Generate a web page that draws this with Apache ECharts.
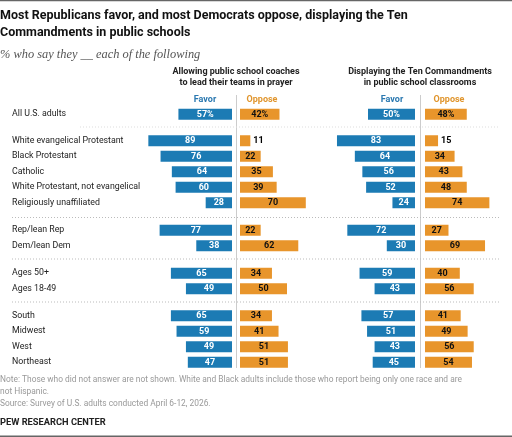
<!DOCTYPE html>
<html><head><meta charset="utf-8">
<script src="https://cdn.jsdelivr.net/npm/echarts@6/dist/echarts.min.js"></script>
<style>html,body{margin:0;padding:0;background:#fff}#c{width:512px;height:437px}</style>
</head><body><div id="c"></div>
<script>
const categories = [
  "All U.S. adults",
  "White evangelical Protestant", "Black Protestant", "Catholic", "White Protestant, not evangelical", "Religiously unaffiliated",
  "Rep/lean Rep", "Dem/lean Dem",
  "Ages 50+", "Ages 18-49",
  "South", "Midwest", "West", "Northeast"
];
const groupSizes = [1, 5, 2, 2, 4];
const coachFavor  = [57, 89, 76, 64, 60, 28, 77, 38, 65, 49, 65, 59, 49, 47];
const coachOppose = [42, 11, 22, 35, 39, 70, 22, 62, 34, 50, 34, 41, 51, 51];
const tenFavor    = [50, 83, 64, 56, 52, 24, 72, 30, 59, 43, 57, 51, 43, 45];
const tenOppose   = [48, 15, 34, 43, 48, 74, 27, 69, 40, 56, 41, 49, 56, 54];

const FONT = 'Roboto, "Liberation Sans", sans-serif';
const NARROW = '"Liberation Sans Narrow", Roboto, sans-serif';
const BLUE = '#1c7bb4', ORANGE = '#e8952b';
const chart = echarts.init(document.getElementById('c'));

const groupTops = [106.5, 133, 222.5, 265.5, 308];
const slot = 15.5;
const cols = [
  {data: coachFavor, left: 138, favor: true},
  {data: coachOppose, left: 240, favor: false},
  {data: tenFavor, left: 321, favor: true},
  {data: tenOppose, left: 425, favor: false}
];
const grids = [], xAxes = [], yAxes = [], series = [];
let start = 0;
groupSizes.forEach((n, g) => {
  const cats = categories.slice(start, start + n);
  cols.forEach((col, c) => {
    const idx = grids.length;
    grids.push({left: col.left, width: 94, top: groupTops[g], height: n * slot});
    xAxes.push({gridIndex: idx, type: 'value', min: 0, max: 100, inverse: col.favor, show: false});
    yAxes.push({
      gridIndex: idx, type: 'category', data: cats, inverse: true, position: 'left',
      axisLine: {show: false, onZero: false}, axisTick: {show: false}, splitLine: {show: false},
      axisLabel: c === 0 ? {show: true, align: 'left', margin: col.left - 12, color: '#222', fontFamily: NARROW, fontSize: 8.8} : {show: false}
    });
    const vals = col.data.slice(start, start + n);
    series.push({
      type: 'bar', xAxisIndex: idx, yAxisIndex: idx, barWidth: 11,
      itemStyle: {color: col.favor ? BLUE : ORANGE},
      label: {show: true, position: 'inside', color: col.favor ? '#fff' : '#111', fontFamily: FONT, fontSize: 9, fontWeight: 'bold',
        formatter: p => p.value + (g === 0 ? '%' : '')},
      data: vals.map(v => (!col.favor && v < 20) ? {value: v, label: {position: 'right', distance: 3, color: '#000'}} : v),
      silent: true, animation: false
    });
  });
  start += n;
});

const txt = (x, y, text, style) => ({type: 'text', x, y, silent: true,
  style: Object.assign({text, fontFamily: FONT, fontSize: 8, fill: '#222', textVerticalAlign: 'middle'}, style)});
const hline = (x1, x2, y, style) => ({type: 'line', silent: true, shape: {x1, y1: y, x2, y2: y}, style});
const dotted = {stroke: '#bbb', lineWidth: 1, lineDash: [1, 2]};

const graphic = [
  hline(0, 512, 0.5, {stroke: '#666', lineWidth: 1.5}),
  hline(0, 512, 436.3, {stroke: '#666', lineWidth: 1.5}),
  txt(0, 16, 'Most Republicans favor, and most Democrats oppose, displaying the Ten', {fontSize: 12.5, fontWeight: 'bold', fill: '#111'}),
  txt(0, 33, 'Commandments in public schools', {fontSize: 12.5, fontWeight: 'bold', fill: '#111'}),
  txt(0, 55, '% who say they __ each of the following', {fontFamily: '"Liberation Serif", serif', fontStyle: 'italic', fontSize: 12.4, fill: '#555'}),
  txt(236, 72, 'Allowing public school coaches', {fontWeight: 'bold', textAlign: 'center', fontSize: 9}),
  txt(236, 83, 'to lead their teams in prayer', {fontWeight: 'bold', textAlign: 'center', fontSize: 9}),
  txt(420, 72, 'Displaying the Ten Commandments', {fontWeight: 'bold', textAlign: 'center', fontSize: 9}),
  txt(420, 83, 'in public school classrooms', {fontWeight: 'bold', textAlign: 'center', fontSize: 9}),
  txt(205, 100, 'Favor', {fontWeight: 'bold', textAlign: 'center', fill: '#2a78b0', fontSize: 9}),
  txt(262, 100, 'Oppose', {fontWeight: 'bold', textAlign: 'center', fill: '#e0952d', fontSize: 9}),
  txt(392, 100, 'Favor', {fontWeight: 'bold', textAlign: 'center', fill: '#2a78b0', fontSize: 9}),
  txt(449, 100, 'Oppose', {fontWeight: 'bold', textAlign: 'center', fill: '#e0952d', fontSize: 9}),
  {type: 'line', silent: true, shape: {x1: 236.5, y1: 95, x2: 236.5, y2: 368}, style: {stroke: '#ccc', lineWidth: 1}},
  {type: 'line', silent: true, shape: {x1: 420.5, y1: 95, x2: 420.5, y2: 368}, style: {stroke: '#ccc', lineWidth: 1}},
  hline(80, 500, 127, {stroke: '#ddd', lineWidth: 1, lineDash: [1, 2]}),
  hline(12, 500, 217.5, dotted),
  hline(12, 500, 259, dotted),
  hline(12, 500, 302, dotted),
  txt(0, 380, 'Note: Those who did not answer are not shown. White and Black adults include those who report being only one race and are', {fill: '#999', fontSize: 8.4}),
  txt(0, 392, 'not Hispanic.', {fill: '#999', fontSize: 8.4}),
  txt(0, 404, 'Source: Survey of U.S. adults conducted April 6-12, 2026.', {fill: '#999', fontSize: 8.4}),
  txt(0, 423, 'PEW RESEARCH CENTER', {fontWeight: 'bold', fontSize: 9.3, fill: '#222'})
];

chart.setOption({
  animation: false,
  backgroundColor: '#fff',
  grid: grids, xAxis: xAxes, yAxis: yAxes, series, graphic
});
</script></body></html>
